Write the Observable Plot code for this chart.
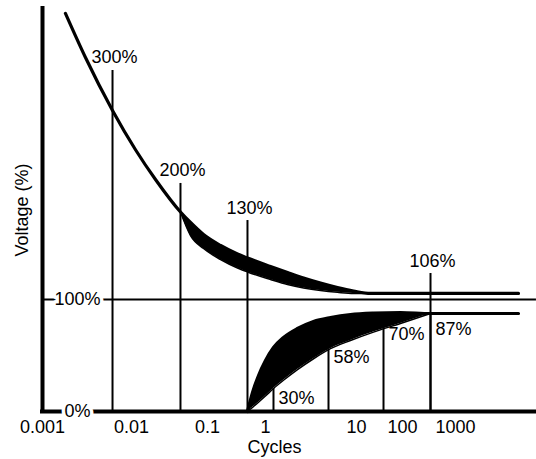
<!DOCTYPE html>
<html>
<head>
<meta charset="utf-8">
<script src="https://cdn.jsdelivr.net/npm/d3@7"></script>
<script src="https://cdn.jsdelivr.net/npm/@observablehq/plot@0.6"></script>
<style>
  html, body { margin: 0; padding: 0; background: #fff; }
  svg { display: block; }
</style>
</head>
<body>
<div id="chart"></div>
<script>
// ---- Axis ticks (cycles, log axis drawn with unevenly spaced decades) ----
const tickCycles = [0.001, 0.01, 0.1, 1, 10, 100, 1000];
const tickLabels = ["0.001", "0.01", "0.1", "1", "10", "100", "1000"];
const voltTicks = [0, 100];
const voltTickLabels = ["0%", "100%"];

// ---- Overvoltage envelope (cycles, % voltage) ----
const overCycles = [0.00181, 0.00304, 0.00612, 0.01129, 0.02069];
const overVolt = [355.4, 316.0, 268.75, 233.7, 207.1];
const overBandCycles = [0.0441, 0.0598, 0.0886, 0.168, 0.329, 0.489, 1.135, 1.745, 2.62, 4.02, 6.18, 9.27, 20.2];
const overBandHigh = [178.1, 168.75, 158.0, 148.2, 140.6, 137.05, 129.5, 124.1, 119.2, 114.7, 110.7, 107.6, 105.4];
const overBandLow  = [178.1, 157.1, 145.5, 135.7, 128.1, 124.6, 117.9, 113.4, 110.3, 108.0, 106.4, 105.4, 105.4];
const overSteady = 105.4;

// ---- Undervoltage envelope ----
const underBandCycles = [0.489, 0.597, 0.758, 1.0, 1.224, 1.577, 2.247, 3.369, 5.179, 8.594, 23.42, 90.5, 337.6];
const underBandHigh = [0, 17.0, 32.1, 45.5, 57.1, 66.1, 74.1, 80.4, 83.9, 86.6, 87.9, 88.4, 87.5];
const underBandLow  = [0, 3.75, 8.3, 13.9, 20.5, 27.9, 37.4, 47.1, 56.1, 63.4, 70.9, 78.6, 87.5];
const underSteady = 87.5;

const curveEndCycles = 15440;
const axisEndCycles = 33700;
const voltMax = 359.8;

// ---- Marker lines and their annotations ----
const upperMarkCycles = [0.00612, 0.0441, 0.489, 337.6];
const upperMarkTop = [304.5, 203.6, 170.5, 123.2];
const upperMarkLabels = ["300%", "200%", "130%", "106%"];

const lowerMarkCycles = [1.224, 4.924, 38.65, 337.6];
const lowerMarkTop = [20.5, 55.4, 74.1, 87.5];
const lowerMarkLabels = ["30%", "58%", "70%", "87%"];
const lowerLabelAt = [6.25, 42.9, 63.4, 67.9];

// ---- Build tables ----
const overLine = [
  ...overCycles.map((c, i) => ({c, v: overVolt[i]})),
  ...overBandCycles.map((c, i) => ({c, v: overBandHigh[i]})),
  {c: curveEndCycles, v: overSteady}
];
const overBand = overBandCycles.map((c, i) => ({c, lo: overBandLow[i], hi: overBandHigh[i]}));
const underBand = underBandCycles.map((c, i) => ({c, lo: underBandLow[i], hi: underBandHigh[i]}));
const underLine = [
  ...underBandCycles.map((c, i) => ({c, v: underBandHigh[i]})),
  {c: curveEndCycles, v: underSteady}
];
const underLow = underBandCycles.map((c, i) => ({c, v: underBandLow[i]}));

const curve = "monotone-x";
const font = "'Liberation Sans', Arial, Helvetica, sans-serif";

const chart = Plot.plot({
  width: 536,
  height: 459,
  marginTop: 8,
  marginBottom: 48,
  marginLeft: 42,
  marginRight: 0,
  style: {fontFamily: font, fontSize: "18px", background: "#fff", color: "#000"},
  x: {
    type: "log",
    domain: [0.001, 0.01, 0.1, 1, 10, 100, 1000, 10000, 100000],
    range: [42, 131, 207, 265, 356, 402, 455, 508, 561],
    axis: null
  },
  y: {domain: [0, voltMax], axis: null},
  marks: [
    // bands
    Plot.areaY(overBand, {x: "c", y1: "lo", y2: "hi", fill: "#000", curve}),
    Plot.line(overBand, {x: "c", y: "lo", stroke: "#000", strokeWidth: 1.5, curve}),
    Plot.line(overLine, {x: "c", y: "v", stroke: "#000", strokeWidth: 3.2, curve}),
    Plot.areaY(underBand, {x: "c", y1: "lo", y2: "hi", fill: "#000", curve}),
    Plot.line(underLow, {x: "c", y: "v", stroke: "#000", strokeWidth: 1.5, curve}),
    Plot.line(underLine, {x: "c", y: "v", stroke: "#000", strokeWidth: 3.2, curve}),
    // marker lines
    Plot.ruleX(upperMarkCycles, {x: d => d, y1: 0, y2: (d, i) => upperMarkTop[i], stroke: "#000", strokeWidth: 2}),
    Plot.ruleX(lowerMarkCycles, {x: d => d, y1: 0, y2: (d, i) => lowerMarkTop[i], stroke: "#000", strokeWidth: 2}),
    // 100% reference line and axes
    Plot.ruleY([100], {x1: 0.001, x2: axisEndCycles, stroke: "#000", strokeWidth: 2}),
    Plot.ruleY([0], {x1: 0.001, x2: axisEndCycles, stroke: "#000", strokeWidth: 4, strokeLinecap: "square"}),
    Plot.ruleX([0.001], {stroke: "#000", strokeWidth: 4, strokeLinecap: "square"}),
    // annotations
    Plot.text(upperMarkCycles, {x: d => d, y: (d, i) => upperMarkTop[i], text: (d, i) => upperMarkLabels[i],
      lineAnchor: "bottom", dy: -7, dx: 2, fill: "#000", fontSize: 18}),
    Plot.text(lowerMarkCycles, {x: d => d, y: (d, i) => lowerLabelAt[i], text: (d, i) => lowerMarkLabels[i],
      lineAnchor: "bottom", textAnchor: "start", dx: 5, fill: "#000", fontSize: 18}),
    // y tick labels sitting on the lines
    Plot.text(voltTicks, {y: d => d, frameAnchor: "left", dx: 35, textAnchor: "middle", text: (d, i) => voltTickLabels[i],
      fill: "#000", stroke: "#fff", strokeWidth: 7, paintOrder: "stroke", fontSize: 18}),
    // x tick labels
    Plot.text(tickCycles, {x: d => d, frameAnchor: "bottom", dy: 16, lineAnchor: "middle",
      text: (d, i) => tickLabels[i], fill: "#000", fontSize: 18}),
    // axis titles
    Plot.text(["Cycles"], {frameAnchor: "bottom", dy: 36, dx: -15, lineAnchor: "middle", fill: "#000", fontSize: 18}),
    Plot.text(["Voltage (%)"], {frameAnchor: "left", dx: -20, textAnchor: "middle", rotate: -90, lineAnchor: "middle", fill: "#000", fontSize: 18})
  ]
});
document.getElementById("chart").appendChild(chart);
</script>
</body>
</html>
